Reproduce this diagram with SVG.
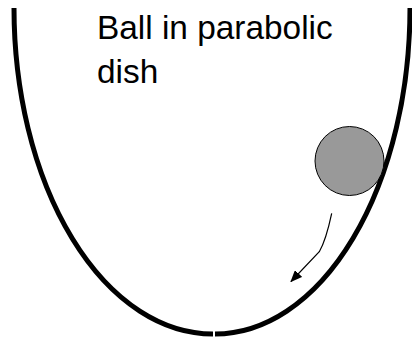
<svg xmlns="http://www.w3.org/2000/svg" width="412" height="339" viewBox="0 0 412 339">
<style>
.dish{fill:none;stroke:#000;stroke-width:5}
.lbl{font-family:"Liberation Sans",Arial,sans-serif;font-size:33.4px;fill:#000}
.arrow{fill:none;stroke:#000;stroke-width:1.2}
</style>
<defs>
<marker id="ah" markerWidth="12" markerHeight="10" refX="11" refY="5" orient="auto" markerUnits="userSpaceOnUse">
<path d="M0,0 L12,5 L0,10 Z" fill="#000"/>
</marker>
</defs>
<rect width="412" height="339" fill="#fff"/>
<g id="dish">
<path class="dish" d="M14,8 A199 326 0 0 0 213,334"/>
<path class="dish" d="M410,8 A195 326 0 0 1 215,334"/>
</g>
<g id="label">
<text class="lbl" x="97" y="39">Ball in parabolic</text>
<text class="lbl" x="97" y="82.5">dish</text>
</g>
<g id="ball">
<circle cx="349.5" cy="161" r="34.5" fill="#999" stroke="#000" stroke-width="1"/>
</g>
<g id="connectors">
<path class="arrow" d="M331.7,213.3 Q326,240 319.3,251.7 L291,281.5" marker-end="url(#ah)"/>
</g>
</svg>
